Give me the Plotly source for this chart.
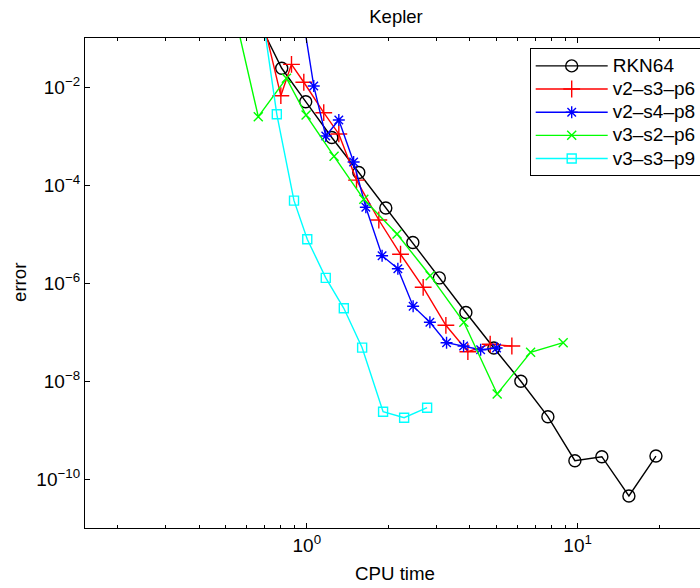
import plotly.graph_objects as go

# ---- data ----
rkn64_x = [0.711, 0.808, 0.991, 1.237, 1.556, 1.958, 2.464, 3.086, 3.868, 4.907, 6.173, 7.768, 9.772, 12.29, 15.47, 19.47]
rkn64_y = [1.0e-1, 2.41e-2, 5.01e-3, 9.31e-4, 1.80e-4, 3.40e-5, 6.71e-6, 1.27e-6, 2.50e-7, 4.71e-8, 9.86e-9, 1.87e-9, 2.36e-10, 2.85e-10, 4.50e-11, 2.94e-10]

v2s3p6_x = [0.688, 0.802, 0.878, 0.975, 1.155, 1.313, 1.526, 1.845, 2.219, 2.690, 3.263, 3.934, 4.755, 5.718]
v2s3p6_y = [2.33e-1, 6.64e-3, 2.90e-2, 1.25e-2, 2.99e-3, 1.10e-3, 1.26e-4, 1.93e-5, 3.86e-6, 8.17e-7, 1.37e-7, 3.96e-8, 5.64e-8, 5.18e-8]

v2s4p8_x = [0.958, 1.061, 1.175, 1.313, 1.489, 1.652, 1.897, 2.169, 2.470, 2.848, 3.282, 3.793, 4.385, 5.021]
v2s4p8_y = [3.72e-1, 1.05e-2, 1.00e-3, 2.12e-3, 2.95e-4, 3.51e-5, 3.61e-6, 1.96e-6, 3.36e-7, 1.58e-7, 6.05e-8, 5.18e-8, 4.35e-8, 4.71e-8]

v3s2p6_x = [0.5375, 0.662, 0.841, 0.994, 1.261, 1.624, 2.154, 2.855, 3.802, 5.047, 6.706, 8.847]
v3s2p6_y = [3.72e-1, 2.48e-3, 1.51e-2, 2.68e-3, 3.85e-4, 5.11e-5, 1.00e-5, 1.41e-6, 1.58e-7, 5.43e-9, 3.85e-8, 6.05e-8]

v3s3p9_x = [0.682, 0.775, 0.897, 1.004, 1.175, 1.370, 1.601, 1.913, 2.288, 2.782]
v3s3p9_y = [3.72e-1, 2.77e-3, 4.79e-5, 7.83e-6, 1.27e-6, 3.05e-7, 4.79e-8, 2.36e-9, 1.78e-9, 2.85e-9]

series_names = ["RKN64", "v2\u2013s3\u2013p6", "v2\u2013s4\u2013p8", "v3\u2013s2\u2013p6", "v3\u2013s3\u2013p9"]

x_tickvals = [1, 10]
x_ticktext = ["10<sup>0</sup>", "10<sup>1</sup>"]
x_minorvals = [0.2, 0.3, 0.4, 0.5, 0.6, 0.7, 0.8, 0.9, 2, 3, 4, 5, 6, 7, 8, 9, 20]
y_tickvals = [1e-2, 1e-4, 1e-6, 1e-8, 1e-10]
y_ticktext = ["10<sup>\u22122</sup>", "10<sup>\u22124</sup>", "10<sup>\u22126</sup>",
              "10<sup>\u22128</sup>", "10<sup>\u221210</sup>"]

FONT = "Liberation Sans, Arial, Helvetica, sans-serif"

W, H = 700, 588
L, R, T, B = 85, 0, 38, 60
PW, PH = W - L - R, H - T - B  # 615 x 490

fig = go.Figure()

def add(xs, ys, name, color, symbol, size, clip=True):
    fig.add_trace(go.Scatter(
        x=xs, y=ys, mode="lines+markers",
        name='<span style="font-size:19px">' + name + "</span>",
        line=dict(color=color, width=1.4),
        marker=dict(symbol=symbol, size=size, color=color,
                    line=dict(color=color, width=1.4)),
        cliponaxis=clip,
    ))

add(rkn64_x, rkn64_y, series_names[0], "#000000", "circle-open", 12, clip=False)
add(v2s3p6_x, v2s3p6_y, series_names[1], "#ff0000", "cross-thin-open", 12)
add(v2s4p8_x, v2s4p8_y, series_names[2], "#0000ff", "asterisk-open", 10)
add(v3s2p6_x, v3s2p6_y, series_names[3], "#00ff00", "x-thin-open", 9)
add(v3s3p9_x, v3s3p9_y, series_names[4], "#00ffff", "square-open", 9)

fig.update_layout(
    width=W, height=H,
    margin=dict(l=L, r=R, t=T, b=B, pad=0, autoexpand=False),
    paper_bgcolor="white", plot_bgcolor="white",
    font=dict(family=FONT, size=18.7, color="black"),
    showlegend=True,
    legend=dict(
        x=(529.7 - L) / PW, y=1 - (48.3 - T) / PH,
        xanchor="left", yanchor="top",
        bgcolor="white", bordercolor="black", borderwidth=1,
        font=dict(family=FONT, size=15.5, color="black"),
        itemwidth=72, tracegroupgap=0,
    ),
    title=dict(text="Kepler", x=(396 - L) / PW, xref="paper", xanchor="center",
               y=1 - 17 / H, yref="container", yanchor="middle",
               font=dict(family=FONT, size=18.5, color="black")),
    xaxis=dict(
        type="log", range=[-0.819, 1.452], automargin=False,
        tickvals=x_tickvals, ticktext=x_ticktext,
        ticks="inside", ticklen=5, tickwidth=1, tickcolor="black",
        showline=True, linecolor="black", linewidth=1.3, mirror="allticks",
        showgrid=False, zeroline=False,
        minor=dict(tickvals=x_minorvals, ticks="inside", ticklen=3,
                   tickwidth=1, tickcolor="black", showgrid=False),
        tickfont=dict(family=FONT, size=19, color="black"),
    ),
    yaxis=dict(
        type="log", range=[-11, -1], automargin=False,
        tickvals=y_tickvals, ticktext=y_ticktext,
        ticks="inside", ticklen=5, tickwidth=1, tickcolor="black",
        showline=True, linecolor="black", linewidth=1.3, mirror=False,
        showgrid=False, zeroline=False,
        tickfont=dict(family=FONT, size=19, color="black"),
    ),
    annotations=[
        dict(text="CPU time", xref="paper", yref="paper",
             x=(395 - L) / PW, y=-(573 - 528) / PH,
             xanchor="center", yanchor="middle", showarrow=False,
             font=dict(family=FONT, size=18.7, color="black")),
        dict(text="error", xref="paper", yref="paper",
             x=-(L - 19) / PW, y=0.5, textangle=-90,
             xanchor="center", yanchor="middle", showarrow=False,
             font=dict(family=FONT, size=18.7, color="black")),
    ],
)

fig.write_html(
    "out.html",
    config={"displayModeBar": False},
    post_script="document.body.style.margin='0';document.body.style.overflow='hidden';",
)
